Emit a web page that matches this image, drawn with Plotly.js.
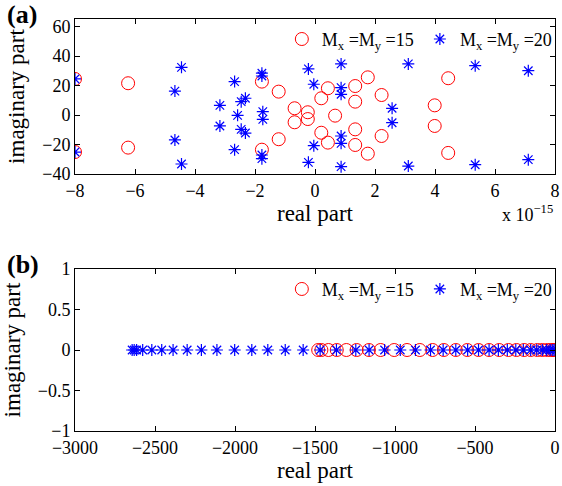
<!DOCTYPE html>
<html>
<head>
<meta charset="utf-8">
<script src="https://cdn.plot.ly/plotly-3.0.1.min.js"></script>
<style>html,body{margin:0;padding:0;background:#fff}#chart{width:562px;height:486px}</style>
</head>
<body>
<div id="chart"></div>
<script>
// Panel (a): eigenvalues, real part in units of 1e-15
const aCircleReal = [-8, -8, -6.23, -6.23, -1.77, -1.77, -1.21, -1.21, -0.68, -0.68, -0.24, -0.24, 0.21, 0.21, 0.43, 0.43, 0.67, 1.34, 1.34, 1.34, 1.34, 1.76, 1.76, 2.22, 2.22, 3.99, 3.99, 4.44, 4.44];
const aCircleImag = [24.5, -25.1, 21.6, -22.1, 22.7, -23.5, 15.9, -16.4, 4.6, -4.9, 1.9, -2.7, 11.4, -12, 18.2, -18.7, -0.4, 19.7, 9.1, -9.7, -20.3, 25.6, -26.2, 13.6, -14.2, 6.6, -7.4, 25, -25.7];
const aStarReal = [-8, -8, -4.45, -4.45, -4.67, -4.67, -3.17, -3.17, -2.68, -2.68, -2.58, -2.46, -2.32, -2.46, -2.32, -1.77, -1.77, -1.74, -1.74, -1.77, -1.77, -0.22, -0.22, -0.04, -0.04, 0.87, 0.87, 0.87, 0.87, 0.87, 0.87, 3.11, 3.11, 2.57, 2.57, 5.34, 5.34, 7.11, 7.11];
const aStarImag = [24.5, -25.1, 32.4, -33.2, 16.3, -16.9, 6.6, -7.4, 22.7, -23.5, -0.2, 9.1, 11.4, -9.7, -12.2, 28.4, 26.5, 2.3, -2.9, -27.1, -29.6, 31.3, -32.1, 20.9, -20.8, 34.7, -35, 18.6, 14.1, -14.2, -19.2, 34.7, -34.6, 4.6, -5.2, 33.5, -33.7, 30.1, -30.3];

// Panel (b): eigenvalues
const bCircleReal = [-1480, -1460, -1416, -1364, -1304, -1240, -1163, -1090, -1005, -925, -845, -765, -695, -620, -548, -478, -412, -349, -291, -241, -193, -152, -110, -79, -48, -27, -12, -3];
const bCircleImag = [0, 0, 0, 0, 0, 0, 0, 0, 0, 0, 0, 0, 0, 0, 0, 0, 0, 0, 0, 0, 0, 0, 0, 0, 0, 0, 0, 0];
const bStarReal = [-2643, -2630, -2615, -2577, -2520, -2458, -2387, -2299, -2210, -2113, -2002, -1895, -1795, -1686, -1574, -1468, -1366, -1245, -1162, -1065, -967, -872, -778, -699, -620, -546, -478, -412, -354, -298, -245, -198, -152, -114, -79, -52, -31, -17, -6];
const bStarImag = [0, 0, 0, 0, 0, 0, 0, 0, 0, 0, 0, 0, 0, 0, 0, 0, 0, 0, 0, 0, 0, 0, 0, 0, 0, 0, 0, 0, 0, 0, 0, 0, 0, 0, 0, 0, 0, 0, 0];

const labelA = 'M<sub>x</sub> =M<sub>y</sub> =15';
const labelB = 'M<sub>x</sub> =M<sub>y</sub> =20';

const FONT = '"Liberation Serif", "Times New Roman", serif';
const circleMarker = {symbol: 'circle-open', size: 13, color: '#ff0000', line: {width: 1, color: '#ff0000'}};
const starMarker = {symbol: 'asterisk-open', size: 10, color: '#0000ff', line: {width: 1.2, color: '#0000ff'}};

const traces = [
  {x: aCircleReal, y: aCircleImag, xaxis: 'x', yaxis: 'y', mode: 'markers', type: 'scatter', name: labelA, marker: circleMarker, legend: 'legend'},
  {x: aStarReal, y: aStarImag, xaxis: 'x', yaxis: 'y', mode: 'markers', type: 'scatter', name: labelB, marker: starMarker, legend: 'legend2'},
  {x: bCircleReal, y: bCircleImag, xaxis: 'x2', yaxis: 'y2', mode: 'markers', type: 'scatter', name: labelA, marker: circleMarker, legend: 'legend3'},
  {x: bStarReal, y: bStarImag, xaxis: 'x2', yaxis: 'y2', mode: 'markers', type: 'scatter', name: labelB, marker: starMarker, legend: 'legend4'}
];

const axisCommon = {
  showline: true, linecolor: '#000', linewidth: 1, mirror: 'ticks',
  ticks: 'inside', ticklen: 5, tickcolor: '#000', tickwidth: 1,
  showgrid: false, zeroline: false,
  tickfont: {family: FONT, size: 18, color: '#000'}
};
const titleFont = {family: FONT, size: 23, color: '#000'};

const legendCommon = {
  orientation: 'v', bgcolor: 'rgba(0,0,0,0)', borderwidth: 0,
  font: {family: FONT, size: 18, color: '#000'},
  xanchor: 'left', yanchor: 'middle', itemclick: false
};

const layout = {
  width: 562, height: 486,
  margin: {l: 75, r: 6, t: 19, b: 55},
  paper_bgcolor: '#fff', plot_bgcolor: '#fff',
  showlegend: true,
  xaxis: Object.assign({}, axisCommon, {domain: [0, 1], anchor: 'y', range: [-8, 8], tickvals: [-8, -6, -4, -2, 0, 2, 4, 6, 8],
    title: {text: 'real part', font: titleFont, standoff: 3}}),
  yaxis: Object.assign({}, axisCommon, {domain: [0.6238, 1], anchor: 'x', range: [-40, 65.2], tickvals: [-40, -20, 0, 20, 40, 60],
    title: {text: 'imaginary part', font: titleFont, standoff: 11}}),
  xaxis2: Object.assign({}, axisCommon, {domain: [0, 1], anchor: 'y2', range: [-3000, 0], tickvals: [-3000, -2500, -2000, -1500, -1000, -500, 0],
    title: {text: 'real part', font: titleFont, standoff: 4}}),
  yaxis2: Object.assign({}, axisCommon, {domain: [0, 0.3932], anchor: 'x2', range: [-1, 1], tickvals: [-1, -0.5, 0, 0.5, 1],
    title: {text: 'imaginary part', font: titleFont, standoff: 11}}),
  legend: Object.assign({}, legendCommon, {x: 0.430, y: 0.9507}),
  legend2: Object.assign({}, legendCommon, {x: 0.717, y: 0.9507}),
  legend3: Object.assign({}, legendCommon, {x: 0.430, y: 0.344}),
  legend4: Object.assign({}, legendCommon, {x: 0.717, y: 0.344}),
  annotations: [
    {text: '<b>(a)</b>', xref: 'paper', yref: 'paper', x: -0.145, y: 1.01, xanchor: 'left', yanchor: 'middle', showarrow: false, font: {family: FONT, size: 26, color: '#000'}},
    {text: '<b>(b)</b>', xref: 'paper', yref: 'paper', x: -0.145, y: 0.403, xanchor: 'left', yanchor: 'middle', showarrow: false, font: {family: FONT, size: 26, color: '#000'}},
    {text: 'x 10<sup>\u221215</sup>', xref: 'paper', yref: 'paper', x: 0.885, y: 0.527, xanchor: 'left', yanchor: 'middle', showarrow: false, font: {family: FONT, size: 18, color: '#000'}}
  ]
};

Plotly.newPlot('chart', traces, layout, {displayModeBar: false, staticPlot: true});
</script>
</body>
</html>
